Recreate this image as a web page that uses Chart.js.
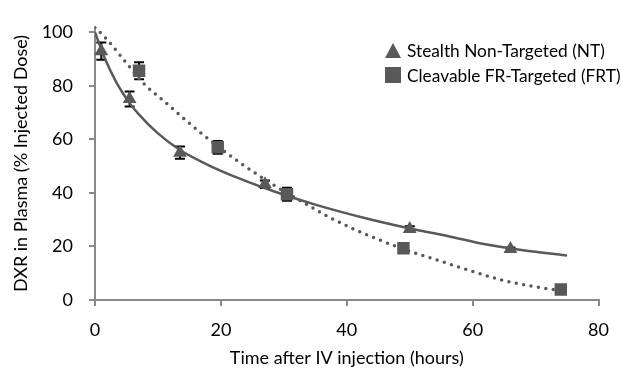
<!DOCTYPE html>
<html>
<head>
<meta charset="utf-8">
<script src="https://cdn.jsdelivr.net/npm/chart.js@4.4.0/dist/chart.umd.min.js"></script>
<style>
  html, body { margin: 0; padding: 0; background: #fff; }
  #wrap { position: relative; width: 622px; height: 373px; }
  #legend { position: absolute; left: 385px; top: 38px; font-family: Lato, sans-serif; font-size: 17.3px; color: #000; }
  .row { position: relative; height: 25px; line-height: 25px; padding-left: 22px; white-space: nowrap; }
  .tri { position: absolute; left: 0; top: 5px; width: 0; height: 0;
         border-left: 8.5px solid transparent; border-right: 8.5px solid transparent; border-bottom: 15px solid #595959; }
  .sq { position: absolute; left: 0; top: 4px; width: 16px; height: 16px; background: #595959; }
</style>
</head>
<body>
<div id="wrap">
  <canvas id="chart" width="622" height="373"></canvas>
  <div id="legend">
    <div class="row"><span class="tri"></span>Stealth Non-Targeted (NT)</div>
    <div class="row"><span class="sq"></span>Cleavable FR-Targeted (FRT)</div>
  </div>
</div>
<script>
// measured points
const ntTimes = [1, 5.5, 13.5, 27, 50, 66];
const ntValues = [92.9, 75, 55, 43.2, 26.5, 19];
const ntErrors = [3.2, 2.8, 2.3, 1.4, 1.0, 0.6];
const frtTimes = [7, 19.5, 30.5, 49, 74];
const frtValues = [85.6, 57, 39.5, 19.3, 3.9];
const frtErrors = [3.2, 2.4, 2.4, 1.0, 0.8];

// fitted curves
const ntFitTimes = [0, 1.5, 3.5, 5.5, 7, 10, 13.5, 18, 23, 28.5, 35, 43, 50, 56, 62, 68, 75];
const ntFitValues = [100, 90.5, 80.8, 73.5, 69.2, 62.2, 56.0, 50.4, 45.3, 40.5, 35.6, 30.5, 26.7, 23.9, 20.8, 18.6, 16.6];
const frtFitTimes = [0, 2, 5, 8, 11, 14, 17, 20, 23, 26, 29, 33, 37, 41, 45, 49, 54.5, 59.7, 64.9, 69, 74];
const frtFitValues = [101.8, 97, 88.4, 80.2, 74.2, 68, 62, 56.5, 51.3, 46.5, 42, 36.6, 31.2, 26.6, 22.6, 19, 14.8, 10.9, 7.3, 5.3, 3.5];

const xTicks = [0, 20, 40, 60, 80];
const yTicks = [0, 20, 40, 60, 80, 100];

const grey = "#595959";
const axisGrey = "#898989";
const font = { family: "Lato, sans-serif", size: 18 };

const toPoints = (xs, ys) => xs.map((x, i) => ({ x: x, y: ys[i] }));

// error bars, drawn under the markers
const errorBars = {
    id: "errorBars",
    beforeDatasetsDraw(chart) {
        const ctx = chart.ctx;
        const xs = chart.scales.x, ys = chart.scales.y;
        const sets = [[ntTimes, ntValues, ntErrors], [frtTimes, frtValues, frtErrors]];
        ctx.save();
        ctx.strokeStyle = "#000";
        ctx.lineWidth = 2;
        sets.forEach(([t, v, e]) => {
            t.forEach((time, i) => {
                const px = xs.getPixelForValue(time);
                const top = ys.getPixelForValue(v[i] + e[i]);
                const bot = ys.getPixelForValue(v[i] - e[i]);
                ctx.beginPath();
                ctx.moveTo(px, top); ctx.lineTo(px, bot);
                ctx.moveTo(px - 5, top); ctx.lineTo(px + 5, top);
                ctx.moveTo(px - 5, bot); ctx.lineTo(px + 5, bot);
                ctx.stroke();
            });
        });
        ctx.restore();
    }
};

new Chart(document.getElementById("chart"), {
    type: "scatter",
    data: {
        datasets: [
            {
                label: "Stealth Non-Targeted (NT)",
                data: toPoints(ntTimes, ntValues),
                pointStyle: "triangle",
                pointRadius: 8,
                pointBackgroundColor: grey,
                pointBorderColor: grey,
                pointBorderWidth: 0,
                order: 1
            },
            {
                label: "Cleavable FR-Targeted (FRT)",
                data: toPoints(frtTimes, frtValues),
                pointStyle: "rect",
                pointRadius: 8.8,
                pointBackgroundColor: grey,
                pointBorderColor: grey,
                pointBorderWidth: 0,
                order: 1
            },
            {
                label: "NT fit",
                data: toPoints(ntFitTimes, ntFitValues),
                showLine: true,
                borderColor: grey,
                borderWidth: 2.5,
                pointRadius: 0,
                cubicInterpolationMode: "monotone",
                order: 3
            },
            {
                label: "FRT fit",
                data: toPoints(frtFitTimes, frtFitValues),
                showLine: true,
                borderColor: grey,
                borderWidth: 3.5,
                borderDash: [0, 7.5],
                borderCapStyle: "round",
                pointRadius: 0,
                cubicInterpolationMode: "monotone",
                order: 3
            }
        ]
    },
    options: {
        responsive: false,
        animation: false,
        layout: { padding: { top: 19, right: 16, left: 0, bottom: 0 } },
        plugins: {
            legend: { display: false },
            tooltip: { enabled: false }
        },
        scales: {
            x: {
                type: "linear",
                min: 0,
                max: 80,
                afterBuildTicks: s => { s.ticks = xTicks.map(v => ({ value: v })); },
                afterFit: s => { s.height = 73; },
                grid: { drawOnChartArea: false, drawTicks: true, tickLength: 6, color: axisGrey, lineWidth: 2 },
                border: { display: true, color: axisGrey, width: 2 },
                ticks: { padding: 13, color: "#000", font: font },
                title: {
                    display: true,
                    text: "Time after IV injection (hours)",
                    color: "#000",
                    font: font,
                    padding: { top: 0, bottom: 4 }
                }
            },
            y: {
                type: "linear",
                min: 0,
                max: 102,
                afterBuildTicks: s => { s.ticks = yTicks.map(v => ({ value: v })); },
                afterFit: s => { s.width = 95; },
                grid: { drawOnChartArea: false, drawTicks: true, tickLength: 6, color: axisGrey, lineWidth: 2 },
                border: { display: true, color: axisGrey, width: 2 },
                ticks: { padding: 16, color: "#000", font: font },
                title: {
                    display: true,
                    text: "DXR in Plasma (% Injected Dose)",
                    color: "#000",
                    font: font,
                    padding: { top: 10, bottom: 0 }
                }
            }
        }
    },
    plugins: [errorBars]
});
</script>
</body>
</html>
